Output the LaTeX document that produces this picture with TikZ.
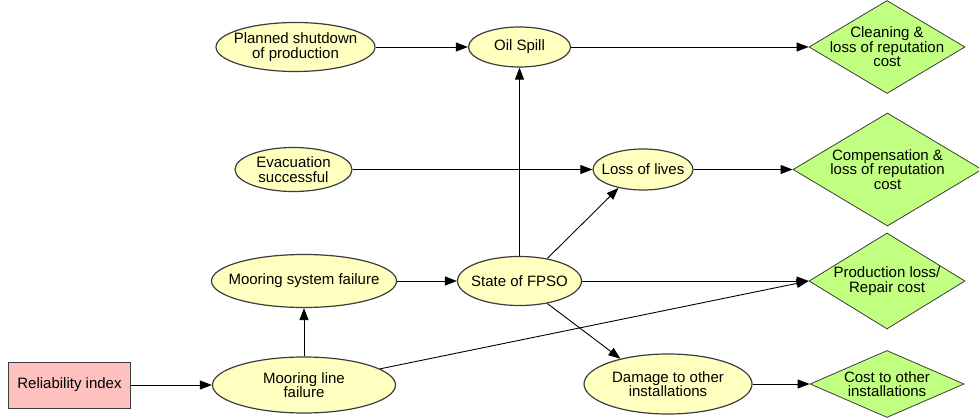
\documentclass[tikz,border=0pt]{standalone}
\usepackage{fontspec}
\setmainfont{Liberation Sans}
\usetikzlibrary{shapes.geometric,arrows.meta}
\definecolor{chancefill}{RGB}{255,255,192}
\definecolor{costfill}{RGB}{192,255,128}
\definecolor{decfill}{RGB}{255,192,192}
\definecolor{edgegray}{RGB}{60,60,60}
\tikzset{
  every node/.style={font=\fontsize{15}{14.5}\selectfont, text=black, inner sep=0pt},
  chance/.style={ellipse, draw=edgegray, line width=1.2pt, fill=chancefill},
  decbox/.style={rectangle, draw=edgegray, line width=1pt, fill=decfill, align=center},
  costbox/.style={diamond, draw=edgegray, line width=0.8pt, fill=costfill},
  lbl/.style={align=center},
  link/.style={draw=black, line width=0.9pt, -{Triangle[length=12pt,width=9pt]}},
}
\begin{document}
\begin{tikzpicture}[x=1pt,y=-1pt]
\useasboundingbox (0,0) rectangle (979,419);

% decision input
\node[decbox, minimum width=122, minimum height=46] (rel) at (69.5,385) {Reliability index};

% chance nodes: outline first, caption on top
\node[chance, minimum width=183, minimum height=56] (mlf) at (304,385) {};
\node[lbl] (mlft) at (mlf.center) {Mooring line\\failure};
\node[chance, minimum width=185, minimum height=53] (msf) at (304,281) {};
\node[lbl] (msft) at (msf.center) {Mooring system failure};
\node[chance, minimum width=124, minimum height=49] (fpso) at (519.5,281) {};
\node[lbl] (fpsot) at (fpso.center) {State of FPSO};
\node[chance, minimum width=168, minimum height=60] (dmg) at (668,384) {};
\node[lbl] (dmgt) at (dmg.center) {Damage to other\\installations};
\node[chance, minimum width=117, minimum height=44] (evac) at (293.5,169.5) {};
\node[lbl] (evact) at (evac.center) {Evacuation\\successful};
\node[chance, minimum width=100, minimum height=41] (loss) at (643,169.5) {};
\node[lbl] (losst) at (loss.center) {Loss of lives};
\node[chance, minimum width=159, minimum height=49] (plan) at (295.5,47) {};
\node[lbl] (plant) at (plan.center) {Planned shutdown\\of production};
\node[chance, minimum width=102, minimum height=40] (oil) at (519.5,47) {};
\node[lbl] (oilt) at (oil.center) {Oil Spill};

% cost nodes
\node[costbox, minimum width=156, minimum height=93] (clean) at (887,47) {};
\node[lbl] (cleant) at (clean.center) {Cleaning \&\\loss of reputation\\cost};
\node[costbox, minimum width=189, minimum height=113] (comp) at (887.5,169.5) {};
\node[lbl] (compt) at (comp.center) {Compensation \&\\loss of reputation\\cost};
\node[costbox, minimum width=156, minimum height=96] (prod) at (887,281) {};
\node[lbl] (prodt) at (prod.center) {Production loss/\\Repair cost};
\node[costbox, minimum width=154, minimum height=67] (other) at (887,384) {};
\node[lbl] (othert) at (other.center) {Cost to other\\installations};

% connectors
\draw[link] (rel) -- (mlf);
\draw[link] (mlf) -- (msf);
\draw[link] (msf) -- (fpso);
\draw[link] (mlf.12) -- (prod.west);
\draw[link] (fpso) -- (oil);
\draw[link] (fpso.39) -- (loss.217);
\draw[link] (fpso) -- (prod.west);
\draw[link] (fpso.-39) -- (dmg.152);
\draw[link] (plan) -- (oil);
\draw[link] (evac) -- (loss);
\draw[link] (oil) -- (clean.west);
\draw[link] (loss) -- (comp.west);
\draw[link] (dmg) -- (other.west);
\end{tikzpicture}
\end{document}
